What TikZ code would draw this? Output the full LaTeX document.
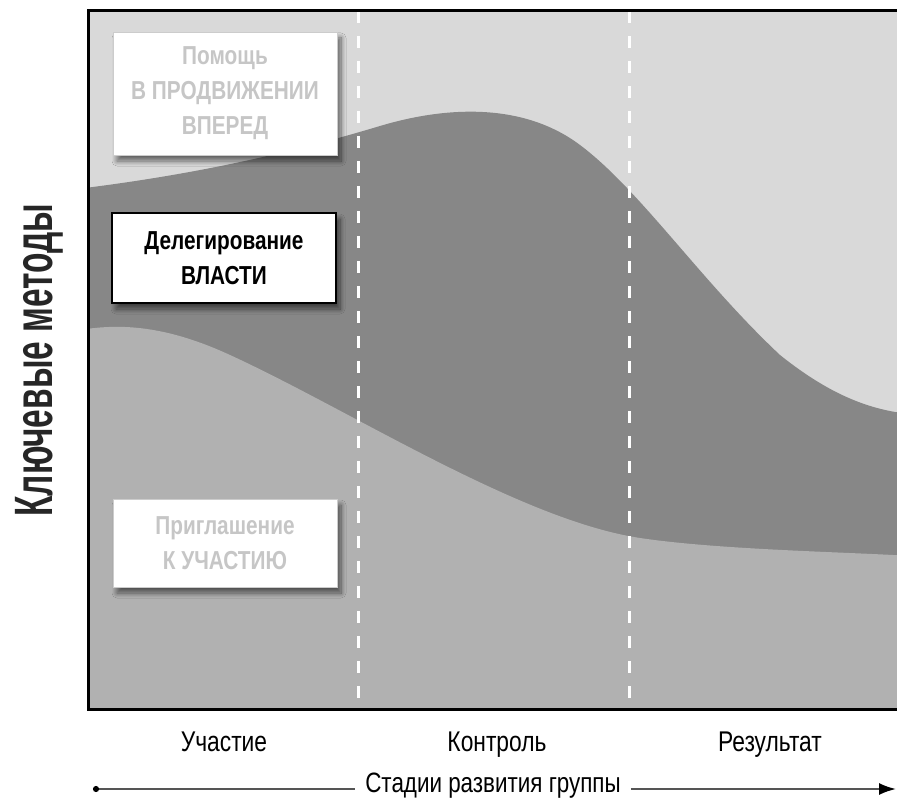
\documentclass[tikz,border=0pt]{standalone}
\usepackage{fontspec}
\setmainfont{Liberation Sans}[FakeStretch=0.8]
\newfontfamily\axisfont{Liberation Sans}[FakeStretch=0.62]
\usetikzlibrary{shadows.blur, arrows.meta}

\definecolor{lightbg}{HTML}{D9D9D9}
\definecolor{darkband}{HTML}{878787}
\definecolor{midband}{HTML}{B1B1B1}
\definecolor{fadedtext}{HTML}{C6C6C6}
\definecolor{axisline}{HTML}{555555}

\begin{document}
\begin{tikzpicture}[x=1pt,y=-1pt,
  methodbox/.style={fill=white, minimum width=224pt, inner sep=0pt, align=center,
    font=\fontsize{26}{35}\selectfont\bfseries,
    blur shadow={shadow xshift=4pt, shadow yshift=-6pt, shadow blur radius=5pt, shadow blur steps=10, shadow opacity=55}},
  fadedbox/.style={methodbox, draw=black!20, line width=0.8pt, text=fadedtext},
  keybox/.style={methodbox, draw=black, line width=1.5pt, text=black},
  stagelabel/.style={anchor=base, font=\fontsize{28.5}{28.5}\selectfont},
  axislabel/.style={font=\fontsize{28}{28}\selectfont, inner xsep=10pt, inner ysep=0pt},
  divider/.style={white, line width=3.5pt, dash pattern=on 12pt off 13pt},
  axisarrow/.style={axisline, line width=2pt}
]
\useasboundingbox (0,0) rectangle (897,805);

% bands
\begin{scope}
  \clip (88,11) rectangle (897,709);
  \fill[lightbg] (80,0) rectangle (905,715);
  \fill[darkband] (60,191)
    .. controls (200,175) and (300,150) .. (380,126)
    .. controls (440,108) and (520,100) .. (580,145)
    .. controls (640,190) and (700,280) .. (780,355)
    .. controls (830,395) and (870,410) .. (910,414)
    -- (910,715) -- (60,715) -- cycle;
  \fill[midband] (60,334)
    .. controls (100,325) and (150,318) .. (230,355)
    .. controls (350,410) and (520,520) .. (640,538)
    .. controls (720,550) and (850,552) .. (910,556)
    -- (910,715) -- (60,715) -- cycle;
  \draw[divider] (358.5,11) -- (358.5,709);
  \draw[divider] (629.5,11) -- (629.5,709);
\end{scope}
\draw[black, line width=3pt] (900,11) -- (88,11) -- (88,709) -- (900,709);

% method boxes
\node[fadedbox, minimum height=123pt] (help) at (225,93.5) {Помощь\\В ПРОДВИЖЕНИИ\\ВПЕРЕД};
\node[keybox, minimum height=90pt] (deleg) at (224,258) {Делегирование\\ВЛАСТИ};
\node[fadedbox, minimum height=88pt] (invite) at (225,543) {Приглашение\\К УЧАСТИЮ};

% vertical title
\node[anchor=base, rotate=90, font=\axisfont\bfseries\fontsize{54}{54}\selectfont, text=black!85, inner sep=0pt] (ytitle) at (52,360) {Ключевые методы};

% stage labels
\node[stagelabel] (st1) at (224,751) {Участие};
\node[stagelabel] (st2) at (497,751) {Контроль};
\node[stagelabel] (st3) at (770,751) {Результат};

% axis
\node[axislabel] (xtitle) at (493,786) {Стадии развития группы};
\coordinate (axstart) at (93,789);
\coordinate (axend) at (896,789);
\draw[axisarrow, {Circle[length=6pt,black]}-] (axstart) -- (axstart -| xtitle.west);
\draw[axisarrow, -{Latex[length=17pt,width=12pt,black]}] (axend -| xtitle.east) -- (axend);
\end{tikzpicture}
\end{document}
